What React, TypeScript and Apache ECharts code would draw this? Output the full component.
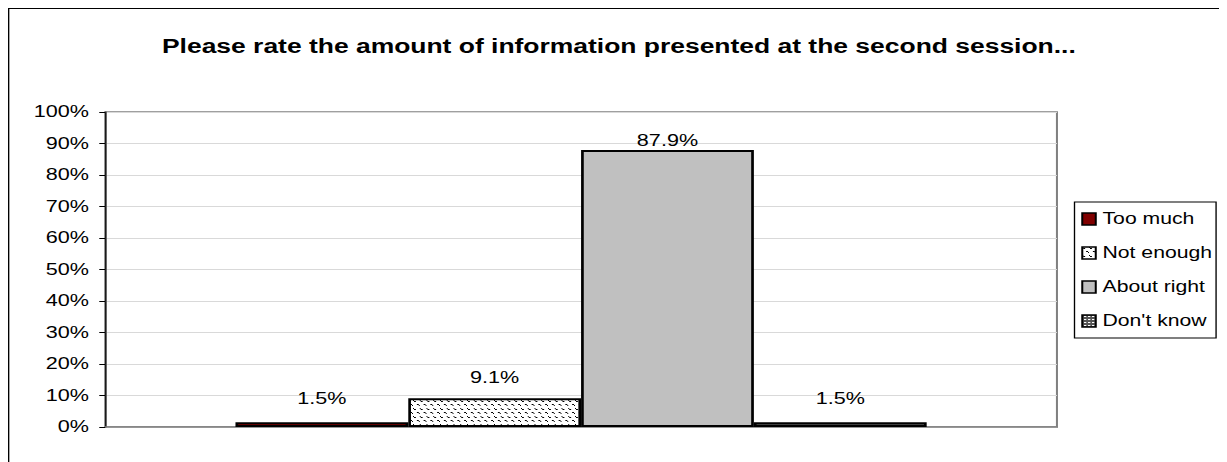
import React, { useEffect, useRef } from "react";
import * as echarts from "echarts";

const TITLE = "Please rate the amount of information presented at the second session...";
const categories = [""];
const seriesNames = ["Too much", "Not enough", "About right", "Don't know"];
const seriesValues = [1.5, 9.1, 87.9, 1.5];
const Y_MIN = 0;
const Y_MAX = 100;
const Y_STEP = 10;

const STRETCH = 1.35;
const W0 = 905;
const H0 = 460;
const FONT = "'Liberation Sans', Arial, Helvetica, sans-serif";

function makePattern(w: number, h: number, bg: string, fg: string, dots: number[][]) {
  const c = document.createElement("canvas");
  c.width = w;
  c.height = h;
  const ctx = c.getContext("2d")!;
  ctx.fillStyle = bg;
  ctx.fillRect(0, 0, w, h);
  ctx.fillStyle = fg;
  dots.forEach(([x, y]) => ctx.fillRect(x, y, 1, 1));
  return { image: c, repeat: "repeat", imageWidth: w, imageHeight: h } as any;
}

export default function App() {
  const ref = useRef<HTMLDivElement>(null);

  useEffect(() => {
    document.documentElement.style.overflow = "hidden";
    document.body.style.overflow = "hidden";
    const chart = echarts.init(ref.current!, null, { renderer: "svg" });

    const colors = [
      "#800000",
      makePattern(5, 8, "#ffffff", "#000000", [[0, 0], [1, 1], [3, 4], [4, 5]]),
      "#c0c0c0",
      makePattern(3, 3, "#555555", "#ffffff", [[1, 1], [2, 1]]),
    ];
    const labelDist = [16, 13, 2, 16];

    const series = seriesNames.map((name, i) => ({
      name,
      type: "bar",
      data: [seriesValues[i]],
      barWidth: 128,
      barGap: "0%",
      itemStyle: { color: colors[i], borderColor: "#000", borderWidth: 2 },
      label: {
        show: true,
        position: "top",
        distance: labelDist[i],
        color: "#000",
        fontSize: 16,
        fontFamily: FONT,
        formatter: (p: any) => `${Number(p.value).toFixed(1)}%`,
      },
    }));

    chart.setOption({
      animation: false,
      backgroundColor: "#ffffff",
      title: {
        text: TITLE,
        left: "center",
        top: 28,
        padding: 0,
        textStyle: { fontFamily: FONT, fontSize: 19.6, fontWeight: "bold", color: "#000" },
      },
      legend: {
        orient: "vertical",
        left: 790,
        top: 194,
        padding: [9, 3, 9, 5],
        itemGap: 18,
        itemWidth: 10,
        itemHeight: 12,
        icon: "rect",
        borderColor: "#000",
        borderWidth: 1,
        backgroundColor: "#fff",
        itemStyle: { borderColor: "#000", borderWidth: 1.5 },
        textStyle: { fontFamily: FONT, fontSize: 15.7, color: "#000", lineHeight: 16 },
        data: seriesNames,
      },
      grid: {
        left: 72,
        right: W0 - 777,
        top: 104,
        bottom: H0 - 419,
        show: true,
        borderColor: "#808080",
        borderWidth: 1.5,
        backgroundColor: "#fff",
      },
      xAxis: {
        type: "category",
        data: categories,
        axisLine: { show: true, lineStyle: { color: "#808080", width: 1.5 } },
        axisTick: { show: false },
        axisLabel: { show: false },
      },
      yAxis: {
        type: "value",
        min: Y_MIN,
        max: Y_MAX,
        interval: Y_STEP,
        axisLine: { show: true, lineStyle: { color: "#000", width: 1 } },
        axisTick: { show: true, length: 4.4, lineStyle: { color: "#000" } },
        axisLabel: {
          margin: 12,
          color: "#000",
          fontSize: 16,
          fontFamily: FONT,
          formatter: "{value}%",
        },
        splitLine: { show: true, lineStyle: { color: "#d9d9d9", width: 1 } },
      },
      graphic: [
        {
          type: "rect",
          z: -10,
          silent: true,
          shape: { x: 0.5, y: 0.5, width: W0 + 20, height: H0 + 20 },
          style: { fill: "none", stroke: "#000", lineWidth: 1 },
        },
      ],
      series,
    });

    return () => chart.dispose();
  }, []);

  return (
    <div
      ref={ref}
      style={{
        width: W0,
        height: H0,
        transform: `scaleX(${STRETCH})`,
        transformOrigin: "0 0",
        imageRendering: "pixelated",
      }}
    />
  );
}
